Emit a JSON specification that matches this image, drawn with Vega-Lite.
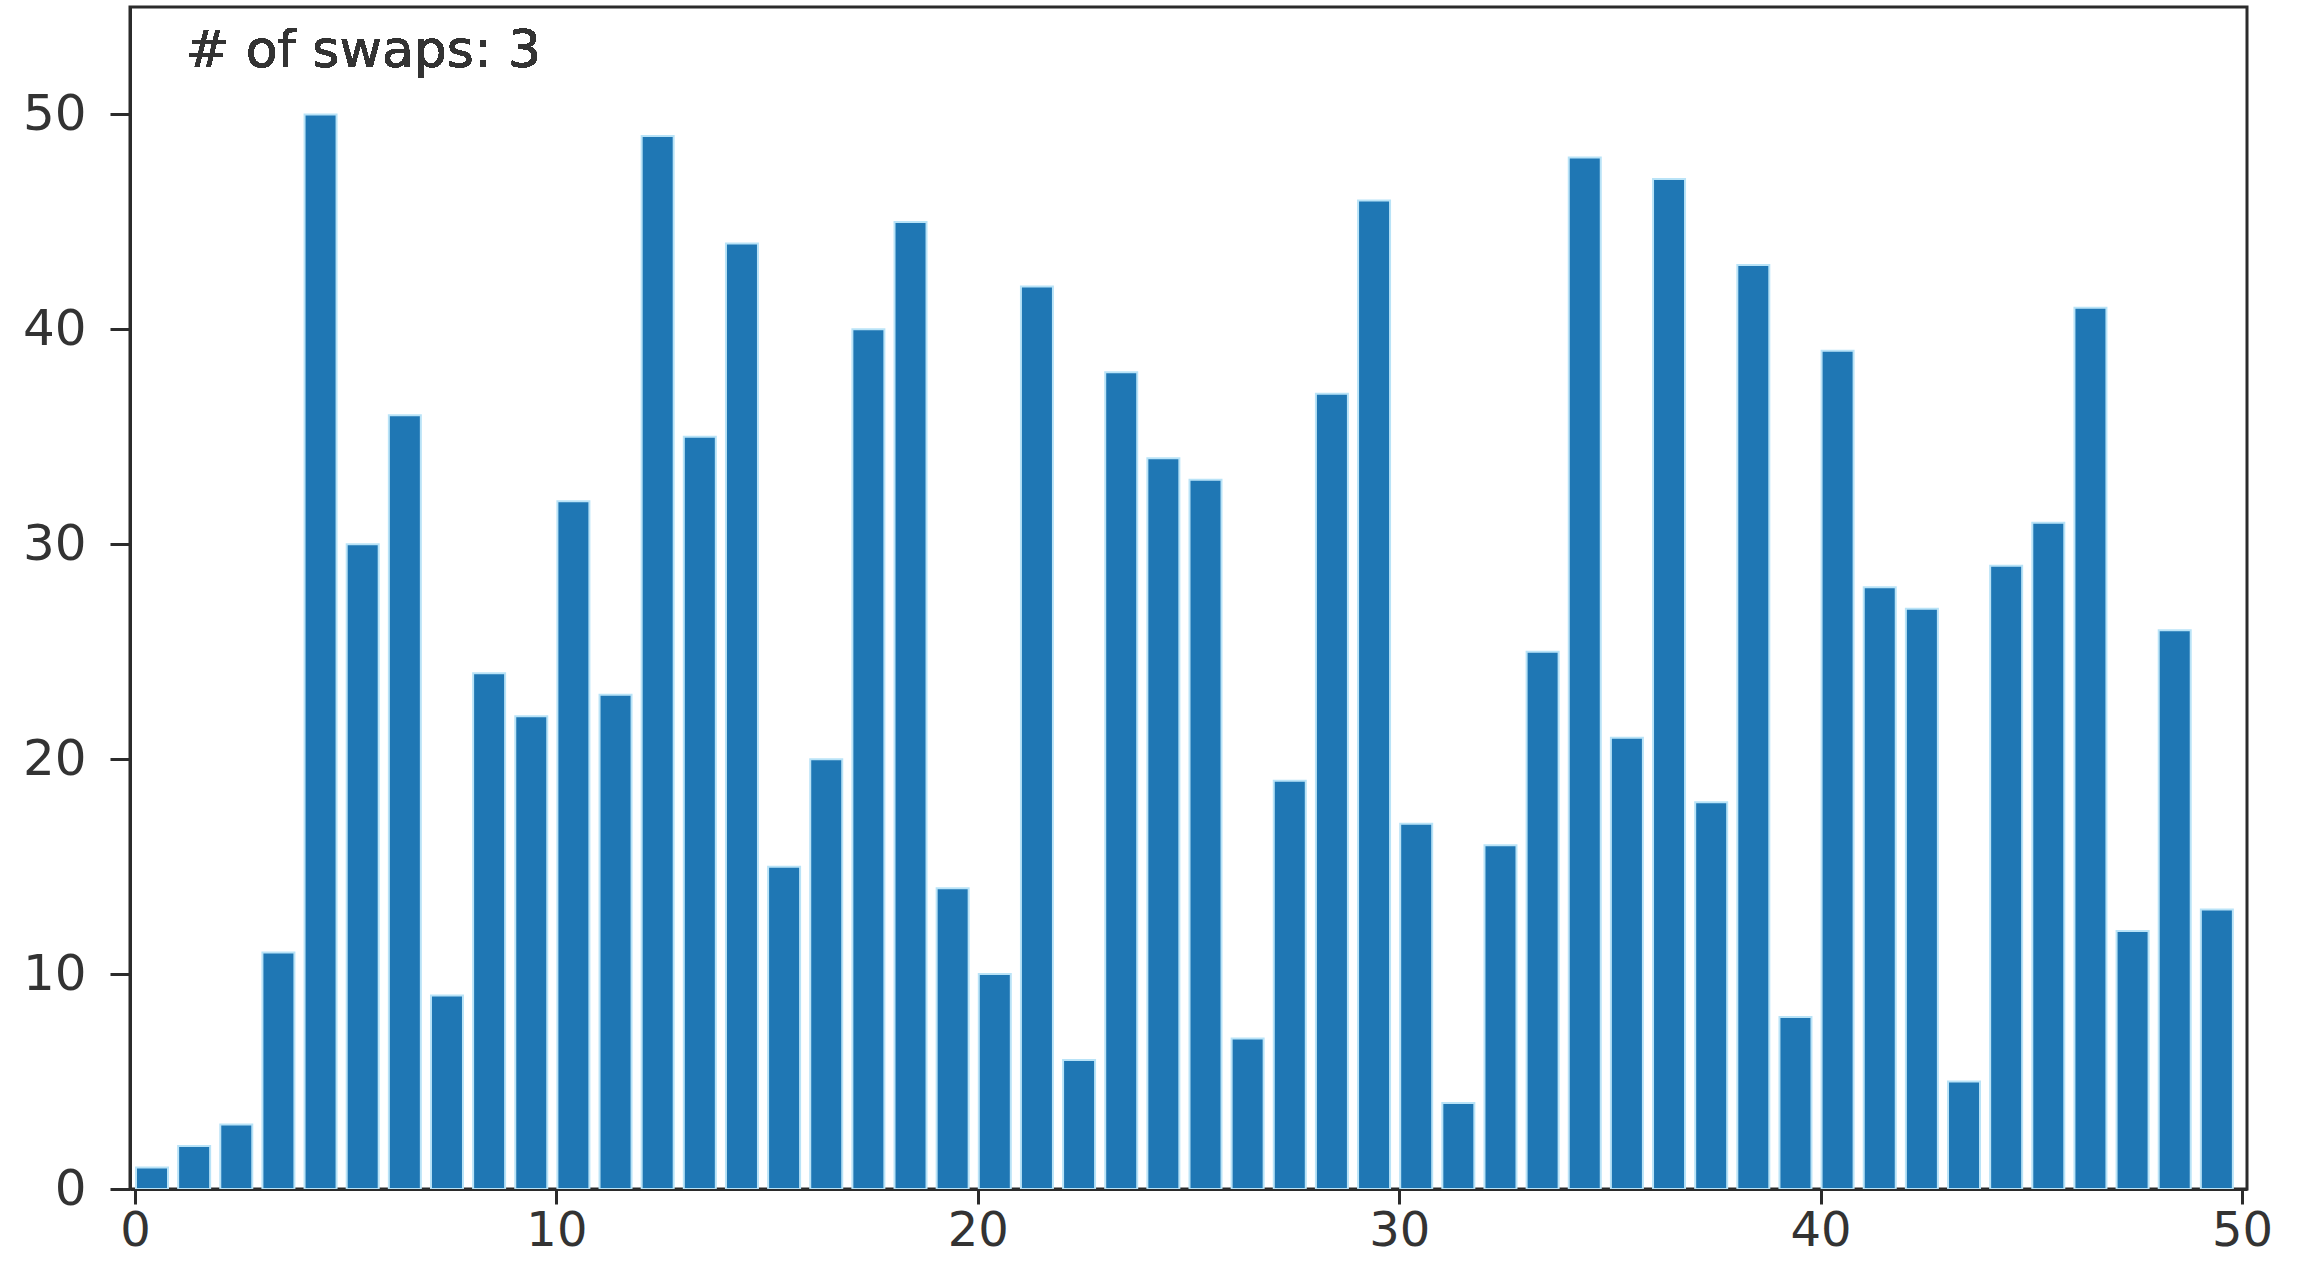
{
  "$schema": "https://vega.github.io/schema/vega-lite/v6.json",
  "width": 2117,
  "height": 1182,
  "autosize": {"type": "none"},
  "padding": {"left": 130, "top": 7, "right": 60, "bottom": 73},
  "background": "white",
  "config": {
    "view": {"stroke": "#2b2b2b", "strokeWidth": 3},
    "font": "DejaVu Sans",
    "axis": {
      "grid": false,
      "domain": true,
      "domainColor": "#2b2b2b",
      "domainWidth": 3,
      "zindex": 1,
      "labelFont": "DejaVu Sans",
      "labelFontSize": 50,
      "labelColor": "#333333",
      "tickColor": "#2b2b2b",
      "tickWidth": 3,
      "title": null
    }
  },
  "data": {
    "values": [
      {"i": 0, "v": 1}, {"i": 1, "v": 2}, {"i": 2, "v": 3}, {"i": 3, "v": 11}, {"i": 4, "v": 50},
      {"i": 5, "v": 30}, {"i": 6, "v": 36}, {"i": 7, "v": 9}, {"i": 8, "v": 24}, {"i": 9, "v": 22},
      {"i": 10, "v": 32}, {"i": 11, "v": 23}, {"i": 12, "v": 49}, {"i": 13, "v": 35}, {"i": 14, "v": 44},
      {"i": 15, "v": 15}, {"i": 16, "v": 20}, {"i": 17, "v": 40}, {"i": 18, "v": 45}, {"i": 19, "v": 14},
      {"i": 20, "v": 10}, {"i": 21, "v": 42}, {"i": 22, "v": 6}, {"i": 23, "v": 38}, {"i": 24, "v": 34},
      {"i": 25, "v": 33}, {"i": 26, "v": 7}, {"i": 27, "v": 19}, {"i": 28, "v": 37}, {"i": 29, "v": 46},
      {"i": 30, "v": 17}, {"i": 31, "v": 4}, {"i": 32, "v": 16}, {"i": 33, "v": 25}, {"i": 34, "v": 48},
      {"i": 35, "v": 21}, {"i": 36, "v": 47}, {"i": 37, "v": 18}, {"i": 38, "v": 43}, {"i": 39, "v": 8},
      {"i": 40, "v": 39}, {"i": 41, "v": 28}, {"i": 42, "v": 27}, {"i": 43, "v": 5}, {"i": 44, "v": 29},
      {"i": 45, "v": 31}, {"i": 46, "v": 41}, {"i": 47, "v": 12}, {"i": 48, "v": 26}, {"i": 49, "v": 13}
    ]
  },
  "layer": [
    {
      "mark": {"type": "bar", "color": "#1f77b4", "size": 32, "xOffset": 17, "stroke": "#b9e3f7", "strokeWidth": 2, "clip": true},
      "encoding": {
        "x": {
          "field": "i", "type": "quantitative",
          "scale": {"domain": [0, 50], "nice": false, "zero": false},
          "axis": {"values": [0, 10, 20, 30, 40, 50], "tickSize": 15, "labelPadding": 3, "labelFontSize": 48, "labelFlush": false}
        },
        "y": {
          "field": "v", "type": "quantitative",
          "scale": {"domain": [0, 55], "nice": false},
          "axis": {"values": [0, 10, 20, 30, 40, 50], "tickSize": 20, "labelPadding": 24}
        }
      }
    },
    {
      "mark": {"type": "text", "text": "# of swaps: 3", "align": "left", "baseline": "alphabetic", "fontSize": 52, "color": "#333333", "font": "DejaVu Sans"},
      "encoding": {
        "x": {"datum": 1.2, "type": "quantitative"},
        "y": {"datum": 52.2, "type": "quantitative"}
      }
    }
  ]
}
